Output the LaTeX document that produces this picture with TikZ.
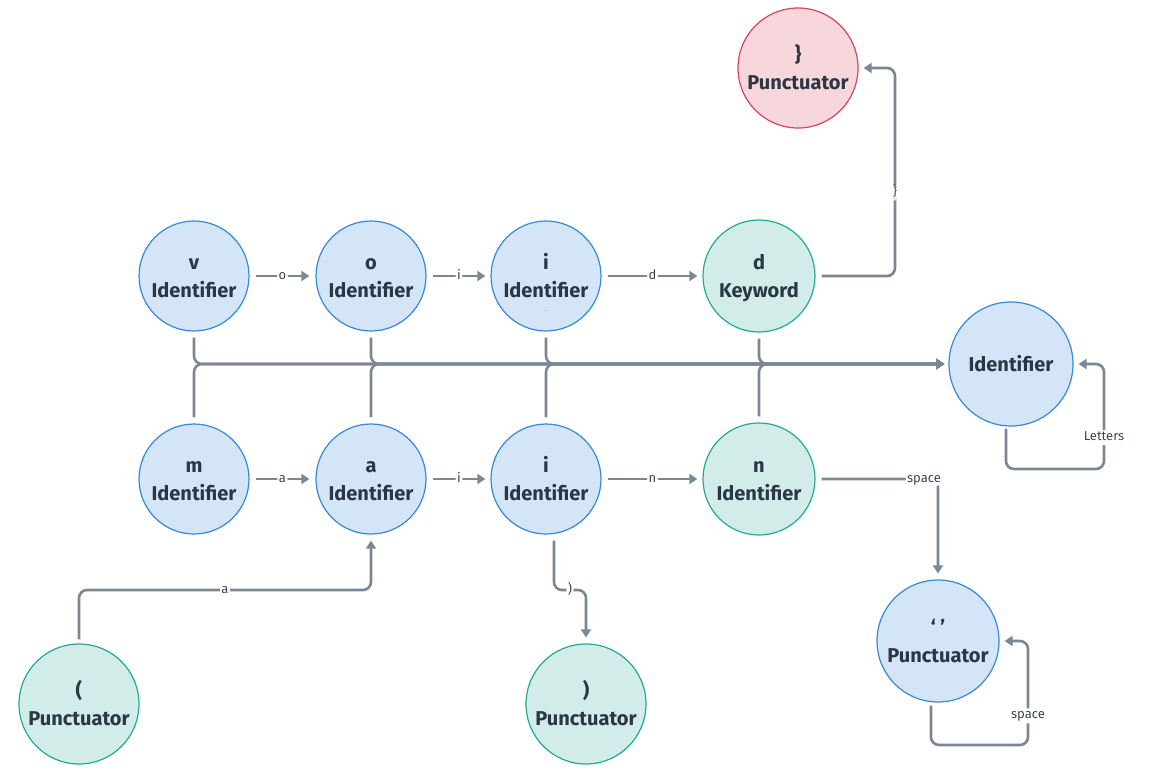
\documentclass[tikz,border=0pt]{standalone}
\usepackage{fontspec}
\setmainfont{Fira Sans}
\usetikzlibrary{arrows.meta}

\definecolor{ink}{HTML}{2B3744}
\definecolor{lblink}{HTML}{3A4652}
\definecolor{edgec}{HTML}{7B8794}
\definecolor{bfill}{HTML}{D4E5F7}
\definecolor{bline}{HTML}{3589DA}
\definecolor{gfill}{HTML}{D2ECE9}
\definecolor{gline}{HTML}{22AA97}
\definecolor{rfill}{HTML}{F7D7DC}
\definecolor{rline}{HTML}{D6465C}

% two-line state label with fixed baselines
\newcommand{\twoline}[2]{\rule[-8.4pt]{0pt}{32pt}#1\\#2\strut}

\tikzset{
  state/.style={circle, inner sep=0pt, align=center, line width=1.2pt, text=ink,
    font=\fontsize{20}{28}\selectfont\bfseries},
  bluestate/.style={state, draw=bline, fill=bfill},
  greenstate/.style={state, draw=gline, fill=gfill},
  redstate/.style={state, draw=rline, fill=rfill},
  conn/.style={draw=edgec, line width=2.6pt, rounded corners=8pt,
    -{Triangle[length=8pt,width=10pt]}},
  lbl/.style={fill=white, text=lblink, inner sep=1.5pt, text height=9pt, text depth=3pt,
    font=\fontsize{13}{13}\selectfont},
}

\begin{document}
\begin{tikzpicture}[x=1pt, y=-1pt]
\useasboundingbox (0,0) rectangle (1160,774);

% states, top row
\node[bluestate, minimum size=110pt] (v)  at (194,276) {\twoline{v}{Identifier}};
\node[bluestate, minimum size=110pt] (o)  at (371,276) {\twoline{o}{Identifier}};
\node[bluestate, minimum size=110pt] (i1) at (546,276) {\twoline{i}{Identifier}};
\node[greenstate, minimum size=112pt] (d) at (759,276) {\twoline{d}{Keyword}};
\node[redstate, minimum size=120pt] (rb)  at (798,68)  {\twoline{\}}{Punctuator}};

% states, bottom row
\node[bluestate, minimum size=110pt] (m)  at (194,479) {\twoline{m}{Identifier}};
\node[bluestate, minimum size=110pt] (a)  at (371,479) {\twoline{a}{Identifier}};
\node[bluestate, minimum size=110pt] (i2) at (546,479) {\twoline{i}{Identifier}};
\node[greenstate, minimum size=112pt] (n) at (759,479) {\twoline{n}{Identifier}};

% identifier, punctuators
\node[bluestate, minimum size=124pt] (id) at (1011,364) {Identifier};
\node[greenstate, minimum size=120pt] (lp) at (79,704)  {\twoline{(}{Punctuator}};
\node[greenstate, minimum size=120pt] (rp) at (586,704) {\twoline{)}{Punctuator}};
\node[bluestate, minimum size=122pt] (sp) at (938,641)  {\twoline{‘ ’}{Punctuator}};

\node[text=edgec, inner sep=0pt, font=\fontsize{8}{8}\selectfont] (dot) at (546,311) {.};

% helper coordinates for bends
\coordinate (bendR) at (895,0);
\coordinate (lowY)  at (0,590);
\coordinate (loopA) at (1104,469);
\coordinate (loopB) at (1028,745);

% keyword chain
\draw[conn] ([xshift=6pt]v.east)  -- node[lbl]{o} ([xshift=-6pt]o.west);
\draw[conn] ([xshift=6pt]o.east)  -- node[lbl]{i} ([xshift=-5pt]i1.west);
\draw[conn] ([xshift=6pt]i1.east) -- node[lbl]{d} ([xshift=-5pt]d.west);
\draw[conn] ([xshift=6pt]d.east) -| node[lbl, pos=0.7]{\}} (bendR |- rb.east) -- ([xshift=5pt]rb.east);

\draw[conn] ([xshift=6pt]m.east)  -- node[lbl]{a} ([xshift=-6pt]a.west);
\draw[conn] ([xshift=6pt]a.east)  -- node[lbl]{i} ([xshift=-5pt]i2.west);
\draw[conn] ([xshift=6pt]i2.east) -- node[lbl]{n} ([xshift=-5pt]n.west);

% every other letter falls back to Identifier
\foreach \s in {v,o,i1,d} {
  \draw[conn] ([yshift=-6pt]\s.south) |- ([xshift=-4pt]id.west);
}
\foreach \s in {m,a,i2,n} {
  \draw[conn] ([yshift=6pt]\s.north) |- ([xshift=-4pt]id.west);
}

% punctuation transitions
\draw[conn] ([yshift=4pt]lp.north) |- node[lbl, pos=0.75]{a} (a |- lowY) -- ([yshift=-6pt]a.south);
\draw[conn] ([xshift=8pt,yshift=-6pt]i2.south) |- node[lbl, pos=0.75]{)} (rp |- lowY) -- ([yshift=6pt]rp.north);
\draw[conn] ([xshift=6pt]n.east) -| node[lbl, pos=0.44]{space} ([yshift=6pt]sp.north);

% self loops
\draw[conn] ([xshift=-5pt,yshift=-2pt]id.south) |- (loopA) |- node[lbl, pos=0.15]{Letters} ([xshift=5pt]id.east);
\draw[conn] ([xshift=-7pt,yshift=-3pt]sp.south) |- (loopB) |- node[lbl, pos=0.14]{space} ([xshift=5pt]sp.east);
\end{tikzpicture}
\end{document}
